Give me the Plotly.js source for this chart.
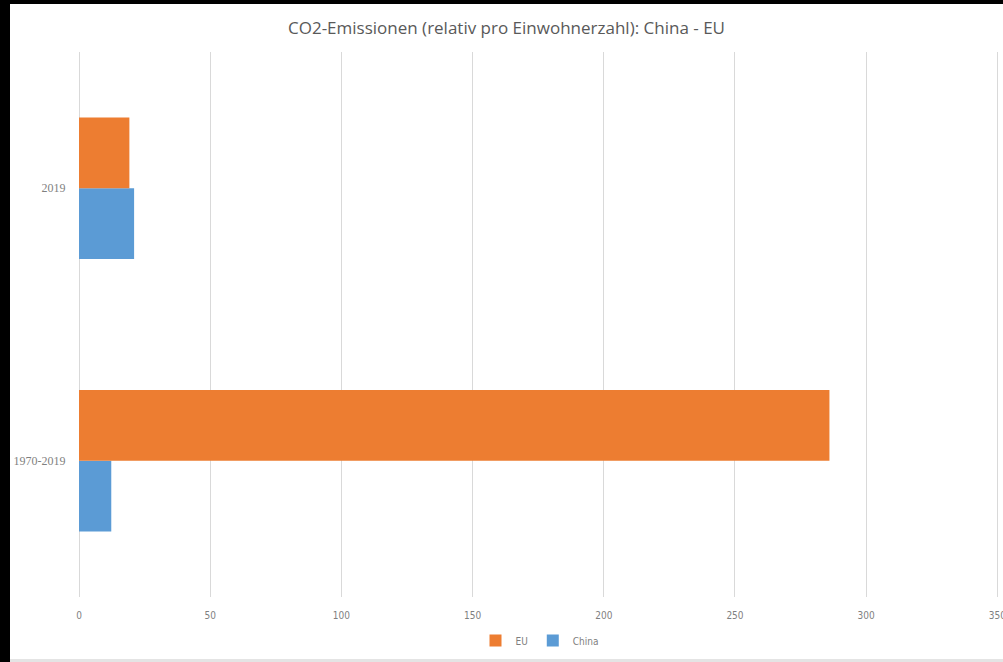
<!DOCTYPE html>
<html>
<head>
<meta charset="utf-8">
<script src="https://cdn.plot.ly/plotly-3.0.1.min.js"></script>
<style>
html,body{margin:0;padding:0;background:#000;width:1003px;height:662px;overflow:hidden;}
#chart{position:absolute;left:10px;top:4px;width:993px;height:655px;background:#fff;border-bottom:3px solid #e4e4e4;}
</style>
</head>
<body>
<div id="chart"></div>
<script>
const categories = ['1970-2019', '2019'];
const seriesNames = ['China', 'EU'];
const chinaValues = [12.3, 21];
const euValues = [286, 19.2];
const colors = {China: '#5B9BD5', EU: '#ED7D31'};
const xTicks = [0, 50, 100, 150, 200, 250, 300, 350];

const traces = [
  {type: 'bar', orientation: 'h', name: seriesNames[0], y: categories, x: chinaValues,
   marker: {color: colors.China}, hoverinfo: 'x+name'},
  {type: 'bar', orientation: 'h', name: seriesNames[1], y: categories, x: euValues,
   marker: {color: colors.EU}, hoverinfo: 'x+name'}
];

const layout = {
  width: 993, height: 655,
  paper_bgcolor: '#fff', plot_bgcolor: '#fff',
  margin: {l: 69, r: 3, t: 48, b: 62},
  title: {text: 'CO2-Emissionen (relativ pro Einwohnerzahl): China - EU',
          font: {family: 'Open Sans', size: 17, color: '#595959'},
          x: 0.5, xanchor: 'center', y: 0.963, yanchor: 'middle'},
  barmode: 'group', bargap: 0.48, bargroupgap: 0,
  xaxis: {range: [0, 351], tickvals: xTicks, showgrid: true, gridcolor: '#d9d9d9', gridwidth: 1,
          zeroline: true, zerolinecolor: '#d9d9d9', zerolinewidth: 1, showline: false,
          ticks: 'outside', ticklen: 9, tickcolor: 'rgba(0,0,0,0)', ticklabeloverflow: 'allow',
          tickfont: {family: 'DejaVu Sans Condensed, Liberation Sans Narrow', size: 10, color: '#7f7f7f'}},
  yaxis: {type: 'category', categoryorder: 'array', categoryarray: categories,
          showgrid: false, zeroline: false, showline: false,
          ticks: 'outside', ticklen: 10, tickcolor: 'rgba(0,0,0,0)',
          tickfont: {family: 'Liberation Serif', size: 12, color: '#7f7f7f'}},
  showlegend: true,
  legend: {orientation: 'h', traceorder: 'reversed', x: 0.5, xanchor: 'center', y: -0.08, yanchor: 'middle',
           font: {family: 'DejaVu Sans Condensed, Liberation Sans Narrow', size: 10, color: '#7f7f7f'},
           itemwidth: 30}
};

Plotly.newPlot('chart', traces, layout, {displayModeBar: false, responsive: false});
</script>
</body>
</html>
